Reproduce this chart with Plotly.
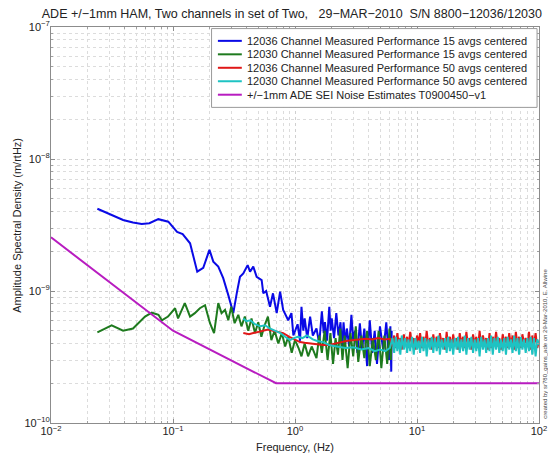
import plotly.graph_objects as go

# ---------------- data ----------------
blue_f = [0.024, 0.0305, 0.039, 0.047, 0.0554, 0.064, 0.0758, 0.0915, 0.108, 0.12, 0.138, 0.158, 0.177, 0.199,
          0.214, 0.235, 0.258, 0.284, 0.312, 0.333, 0.354, 0.377, 0.409, 0.428, 0.455, 0.485, 0.533, 0.55, 0.58,
          0.624, 0.66, 0.708, 0.755, 0.8, 0.88, 0.935, 0.97, 1.05, 1.1, 1.13, 1.17, 1.2, 1.26, 1.33, 1.4, 1.5,
          1.58, 1.66, 1.72, 1.76, 1.83, 1.91, 1.96, 2.0, 2.09, 2.18, 2.27, 2.36, 2.43, 2.5, 2.58, 2.66, 2.78,
          2.9, 3.0, 3.1, 3.25, 3.4, 3.55, 3.7, 3.9, 4.1, 4.3, 4.5, 4.7, 4.97, 5.3, 5.6, 5.9, 6.05, 6.15, 6.2]
blue_v = [4.2e-9, 3.8e-9, 3.45e-9, 3.3e-9, 3.22e-9, 3.26e-9, 3.5e-9, 3.35e-9, 2.8e-9, 2.7e-9, 2.3e-9, 1.4e-9,
          1.5e-9, 2.05e-9, 1.67e-9, 1.53e-9, 1.25e-9, 9.3e-10, 6.8e-10, 9.6e-10, 1.28e-9, 1.36e-9, 1.57e-9,
          1.4e-9, 1.53e-9, 1.28e-9, 1.21e-9, 9.6e-10, 1.0e-9, 7.6e-10, 9.6e-10, 6.8e-10, 9.9e-10, 7.2e-10,
          6.0e-10, 6.8e-10, 4.6e-10, 5.6e-10, 4.2e-10, 7.6e-10, 5.0e-10, 6.2e-10, 4.4e-10, 6.4e-10, 4.6e-10,
          5.2e-10, 4.0e-10, 7.0e-10, 4.8e-10, 5.8e-10, 4.2e-10, 7.6e-10, 5.0e-10, 6.2e-10, 4.4e-10, 6.8e-10,
          4.6e-10, 5.8e-10, 3.6e-10, 5.8e-10, 4.0e-10, 5.2e-10, 3.8e-10, 6.6e-10, 4.2e-10, 5.0e-10, 3.4e-10,
          5.7e-10, 3.6e-10, 5.2e-10, 2.7e-10, 6.0e-10, 3.4e-10, 5.0e-10, 2.8e-10, 5.4e-10, 3.5e-10, 5.8e-10,
          3.0e-10, 5.4e-10, 2.45e-10, 5.0e-10]

green_f = [0.024, 0.0314, 0.039, 0.047, 0.059, 0.067, 0.076, 0.081, 0.091, 0.104, 0.11, 0.125, 0.138, 0.151,
           0.166, 0.183, 0.201, 0.217, 0.235, 0.25, 0.267, 0.284, 0.3, 0.32, 0.343, 0.364, 0.388, 0.414, 0.44,
           0.47, 0.5, 0.53, 0.56, 0.6, 0.64, 0.68, 0.73, 0.78, 0.83, 0.88, 0.94, 1.0, 1.07, 1.13, 1.2, 1.28,
           1.37, 1.5, 1.58, 1.66, 1.75, 1.85, 1.95, 2.05, 2.15, 2.25, 2.35, 2.45, 2.55, 2.7, 2.85, 3.0, 3.15,
           3.3, 3.5, 3.7, 3.9, 4.1, 4.35, 4.6, 4.85, 5.1, 5.4, 5.7, 5.95, 6.1, 6.2]
green_v = [4.85e-10, 5.5e-10, 5.0e-10, 5.2e-10, 6.4e-10, 6.85e-10, 6.6e-10, 6.0e-10, 6.4e-10, 7.4e-10,
           6.2e-10, 8.1e-10, 6.4e-10, 6.8e-10, 7.4e-10, 7.8e-10, 5.7e-10, 4.8e-10, 8.1e-10, 6.8e-10, 7.2e-10,
           6.0e-10, 7.6e-10, 5.7e-10, 6.6e-10, 5.4e-10, 6.4e-10, 5.0e-10, 6.2e-10, 4.8e-10, 5.8e-10, 4.5e-10,
           5.4e-10, 6.4e-10, 4.25e-10, 5.0e-10, 4.0e-10, 4.8e-10, 3.8e-10, 4.5e-10, 3.4e-10, 4.25e-10, 3.7e-10,
           3.2e-10, 4.0e-10, 3.2e-10, 3.8e-10, 3.1e-10, 4.6e-10, 3.4e-10, 5.0e-10, 3.0e-10, 4.8e-10, 2.8e-10,
           4.4e-10, 3.3e-10, 5.2e-10, 3.0e-10, 4.6e-10, 2.6e-10, 4.8e-10, 3.2e-10, 5.4e-10, 2.9e-10, 4.6e-10,
           3.1e-10, 5.0e-10, 2.7e-10, 4.4e-10, 3.0e-10, 5.0e-10, 2.6e-10, 4.6e-10, 2.8e-10, 5.2e-10, 3.0e-10,
           4.4e-10]

# 50-average traces: smooth part below 6 Hz, then a dense noisy band up to 100 Hz
red_lo_f = [0.377, 0.42, 0.455, 0.5, 0.55, 0.6, 0.66, 0.72, 0.8, 0.9, 1.0, 1.1, 1.2, 1.33, 1.5, 1.7, 1.9, 2.1,
            2.4, 2.7, 3.0, 3.4, 3.8, 4.3, 4.8, 5.4, 6.0]
red_lo_v = [4.8e-10, 4.7e-10, 4.8e-10, 4.9e-10, 5.0e-10, 5.1e-10, 5.0e-10, 4.9e-10, 4.8e-10, 4.5e-10, 4.3e-10,
            4.1e-10, 4.05e-10, 4.0e-10, 3.95e-10, 3.9e-10, 3.9e-10, 4.0e-10, 4.1e-10, 4.2e-10, 4.25e-10, 4.3e-10,
            4.35e-10, 4.3e-10, 4.4e-10, 4.3e-10, 4.35e-10]
cyan_lo_f = [0.377, 0.4, 0.43, 0.47, 0.52, 0.57, 0.62, 0.68, 0.76, 0.83, 0.91, 0.98, 1.05, 1.15, 1.25, 1.4, 1.5,
             1.7, 1.9, 2.2, 2.6, 3.0, 3.5, 4.0, 4.5, 5.0, 5.5, 6.0]
cyan_lo_v = [6.2e-10, 5.9e-10, 6.0e-10, 5.6e-10, 5.4e-10, 5.5e-10, 5.2e-10, 5.0e-10, 4.8e-10, 4.5e-10, 4.25e-10,
             4.4e-10, 4.5e-10, 4.4e-10, 4.6e-10, 4.3e-10, 4.2e-10, 4.1e-10, 3.9e-10, 3.8e-10, 3.7e-10, 3.75e-10,
             3.6e-10, 3.7e-10, 3.5e-10, 3.6e-10, 3.5e-10, 3.7e-10]

hf_f = [6.3, 6.5, 6.7, 6.9, 7.1, 7.3, 7.5, 7.8, 8.0, 8.3, 8.5, 8.8, 9.1, 9.4, 9.7, 10.0, 10.3, 10.6, 11.0, 11.3,
        11.7, 12.0, 12.4, 12.8, 13.2, 13.6, 14.0, 14.5, 15.0, 15.4, 15.9, 16.4, 17.0, 17.5, 18.0, 18.6, 19.2,
        19.8, 20.4, 21.1, 21.7, 22.4, 23.1, 23.9, 24.6, 25.4, 26.2, 27.0, 27.9, 28.8, 29.7, 30.6, 31.6, 32.6,
        33.6, 34.7, 35.8, 36.9, 38.1, 39.3, 40.5, 41.8, 43.1, 44.5, 45.9, 47.3, 48.8, 50.4, 52.0, 53.6, 55.3,
        57.0, 58.8, 60.7, 62.6, 64.6, 66.6, 68.7, 70.9, 73.1, 75.4, 77.8, 80.3, 82.8, 85.4, 88.1, 90.9, 93.8,
        96.8, 100.0]
red_hf_v = [3.8e-10, 4.6e-10, 3.7e-10, 4.8e-10, 3.9e-10, 4.4e-10, 3.6e-10, 4.7e-10, 4.0e-10, 4.5e-10,
            3.7e-10, 4.9e-10, 3.8e-10, 4.4e-10, 3.6e-10, 4.6e-10, 4.0e-10, 4.8e-10, 3.7e-10, 4.5e-10,
            3.9e-10, 5.0e-10, 3.8e-10, 4.4e-10, 3.6e-10, 4.7e-10, 3.9e-10, 4.5e-10, 3.7e-10, 4.8e-10,
            4.0e-10, 4.4e-10, 3.6e-10, 4.9e-10, 3.8e-10, 4.5e-10, 3.7e-10, 4.7e-10, 3.9e-10, 4.4e-10,
            3.6e-10, 4.8e-10, 4.0e-10, 4.5e-10, 3.7e-10, 4.9e-10, 3.8e-10, 4.4e-10, 3.6e-10, 4.7e-10,
            3.9e-10, 4.5e-10, 3.7e-10, 5.0e-10, 3.8e-10, 4.6e-10, 4.0e-10, 4.4e-10, 3.6e-10, 4.8e-10,
            3.7e-10, 4.5e-10, 3.9e-10, 4.9e-10, 3.8e-10, 4.4e-10, 3.6e-10, 4.7e-10, 4.0e-10, 4.5e-10,
            3.7e-10, 4.8e-10, 3.8e-10, 4.6e-10, 3.6e-10, 4.9e-10, 3.9e-10, 4.5e-10, 3.7e-10, 4.7e-10,
            4.0e-10, 4.4e-10, 3.8e-10, 4.9e-10, 3.6e-10, 4.6e-10, 3.9e-10, 4.8e-10, 3.7e-10, 4.2e-10]
cyan_hf_v = [4.4e-10, 3.4e-10, 4.5e-10, 3.5e-10, 4.3e-10, 3.3e-10, 4.6e-10, 3.6e-10, 4.4e-10, 3.4e-10,
             4.3e-10, 3.5e-10, 4.5e-10, 3.3e-10, 4.4e-10, 3.6e-10, 4.2e-10, 3.4e-10, 4.5e-10, 3.5e-10,
             4.4e-10, 3.2e-10, 4.3e-10, 3.6e-10, 4.5e-10, 3.4e-10, 4.4e-10, 3.5e-10, 4.6e-10, 3.3e-10,
             4.3e-10, 3.6e-10, 4.4e-10, 3.4e-10, 4.5e-10, 3.5e-10, 4.3e-10, 3.3e-10, 4.4e-10, 3.6e-10,
             4.5e-10, 3.4e-10, 4.3e-10, 3.5e-10, 4.6e-10, 3.3e-10, 4.4e-10, 3.6e-10, 4.5e-10, 3.4e-10,
             4.3e-10, 3.5e-10, 4.4e-10, 3.2e-10, 4.5e-10, 3.6e-10, 4.3e-10, 3.4e-10, 4.4e-10, 3.5e-10,
             4.6e-10, 3.3e-10, 4.4e-10, 3.6e-10, 4.5e-10, 3.4e-10, 4.3e-10, 3.5e-10, 4.4e-10, 3.3e-10,
             4.5e-10, 3.6e-10, 4.3e-10, 3.4e-10, 4.6e-10, 3.5e-10, 4.4e-10, 3.3e-10, 4.5e-10, 3.6e-10,
             4.3e-10, 3.4e-10, 4.4e-10, 3.5e-10, 4.5e-10, 3.3e-10, 4.4e-10, 3.2e-10, 4.3e-10, 3.9e-10]

mag_f = [0.01, 0.1, 0.7, 100]
mag_v = [2.55e-9, 5.0e-10, 2.0e-10, 2.0e-10]

x_tickvals = [0.01, 0.1, 1, 10, 100]
x_ticktext = ["10<sup>\u22122</sup>", "10<sup>\u22121</sup>", "10<sup>0</sup>", "10<sup>1</sup>", "10<sup>2</sup>"]
y_tickvals = [1e-10, 1e-9, 1e-8, 1e-7]
y_ticktext = ["10<sup>\u221210</sup>", "10<sup>\u22129</sup>", "10<sup>\u22128</sup>", "10<sup>\u22127</sup>"]

names = ["12036 Channel Measured Performance 15 avgs centered",
         "12030 Channel Measured Performance 15 avgs centered",
         "12036 Channel Measured Performance 50 avgs centered",
         "12030 Channel Measured Performance 50 avgs centered",
         "+/\u22121mm ADE SEI Noise Estimates T0900450\u2212v1"]
colors = ["#0a0ae6", "#1e7a1e", "#e01818", "#1ec3c3", "#b81cc0"]

title_text = "ADE +/\u22121mm HAM, Two channels in set of Two,   29\u2212MAR\u22122010  S/N 8800\u221212036/12030"
x_title = "Frequency, (Hz)"
y_title = "Amplitude Spectral Density (m/rtHz)"
side_note = "created by sr780_gains_ade on 29-Mar-2010, E. Allwine"

# ---------------- figure ----------------
fig = go.Figure()
series = [(blue_f, blue_v), (green_f, green_v),
          (red_lo_f + hf_f, red_lo_v + red_hf_v), (cyan_lo_f + hf_f, cyan_lo_v + cyan_hf_v),
          (mag_f, mag_v)]
for (fx, fy), nm, col in zip(series, names, colors):
    fig.add_trace(go.Scatter(x=fx, y=fy, mode="lines", name=nm, showlegend=False,
                             line=dict(color=col, width=2)))

FONT = "Liberation Sans, Arial, sans-serif"
axis_common = dict(
    type="log", automargin=False,
    showline=True, linecolor="#8c8c8c", linewidth=1, mirror="allticks",
    ticks="inside", ticklen=4, tickcolor="#8c8c8c",
    showgrid=True, gridcolor="#d0d0d0", griddash="dot", gridwidth=1,
    zeroline=False, tickfont=dict(size=11, color="#222"),
    minor=dict(dtick="D1", showgrid=True, gridcolor="#dcdcdc", griddash="dot",
               ticks="inside", ticklen=2, tickcolor="#a0a0a0"),
)

# the page body adds an 8 px offset, so the figure is 548x448 and sits at (8, 8)
fig.update_layout(
    width=548, height=448,
    margin=dict(l=43, r=17, t=19, b=33),
    paper_bgcolor="white", plot_bgcolor="white",
    font=dict(family=FONT, size=11, color="#222"),
    title=dict(text=title_text, x=0.518, y=0.998, xanchor="center", yanchor="top",
               font=dict(size=12.5, color="#222")),
    xaxis=dict(range=[-2, 2], tickvals=x_tickvals, ticktext=x_ticktext, ticklabelstandoff=-2,
               **axis_common),
    yaxis=dict(range=[-10, -7], tickvals=y_tickvals, ticktext=y_ticktext, ticklabelstandoff=-2,
               **axis_common),
    showlegend=False,
)

# axis titles
fig.add_annotation(text=x_title, xref="paper", yref="paper", x=0.5, y=-0.061, showarrow=False,
                   xanchor="center", yanchor="middle", font=dict(size=11, color="#222"))
fig.add_annotation(text=y_title, xref="paper", yref="paper", x=-0.07, y=0.5, showarrow=False,
                   textangle=-90, xanchor="center", yanchor="middle", font=dict(size=11, color="#222"))

# legend box drawn in paper coordinates (layout, not data)
leg_x0, leg_x1, leg_y0, leg_y1 = 0.329, 0.996, 0.797, 0.996
fig.add_shape(type="rect", xref="paper", yref="paper", x0=leg_x0, x1=leg_x1, y0=leg_y0, y1=leg_y1,
              line=dict(color="#9a9a9a", width=1), fillcolor="white", layer="above")
leg_rows = [0.965, 0.931, 0.897, 0.863, 0.829]
for ry, nm, col in zip(leg_rows, names, colors):
    fig.add_shape(type="line", xref="paper", yref="paper", x0=0.342, x1=0.391, y0=ry, y1=ry,
                  line=dict(color=col, width=2), layer="above")
    fig.add_annotation(text=nm, xref="paper", yref="paper", x=0.397, y=ry, xanchor="left",
                       yanchor="middle", showarrow=False, font=dict(size=11, color="#222"))

fig.add_annotation(text=side_note, xref="paper", yref="paper", x=1.012, y=0.2,
                   textangle=-90, showarrow=False, font=dict(size=6, color="#444"),
                   xanchor="center", yanchor="middle")

fig.write_html("out.html")
